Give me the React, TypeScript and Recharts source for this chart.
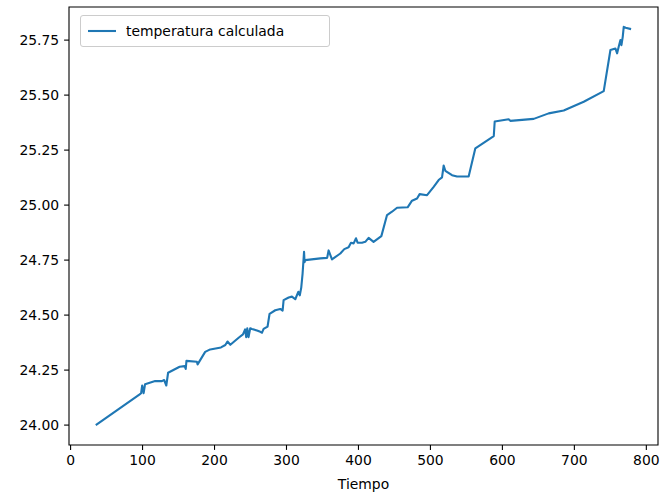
import React from 'react';
import { LineChart, Line, XAxis, YAxis, Legend, ReferenceArea } from 'recharts';

// Tiempo (x) and temperatura calculada (y)
const tiempo = [
  35, 96, 98, 99.5, 101.5, 103.5, 117.5, 127, 130, 133,
  135.5, 151.5, 158.5, 160, 161, 175.5, 176.5, 187, 194, 209,
  215, 218, 222, 233.5, 239.5, 242.5, 244, 245.5, 247.3, 249.6,
  252, 259, 263.6, 266, 268.2, 273.7, 276.5, 284.4, 291.3, 294.6,
  296, 303, 307.6, 312.2, 316.4, 318.5, 320.5, 322.4, 324.4, 325.1,
  326, 347, 356.5, 358.5, 363.2, 374.8, 380.3, 386.3, 389.6, 393.3,
  396.6, 398.8, 404.9, 409.5, 414.1, 421, 431.8, 439.7, 446.6, 453.6,
  468.3, 474.4, 481.4, 485, 495.3, 504.5, 511.4, 516.1, 518.4, 520.7,
  530, 537, 553.1, 562.4, 588, 589.3, 608.7, 611, 643.5, 664.3,
  685.2, 713, 740.8, 750.1, 757, 759.4, 761.6, 764, 765.4, 767.2,
  768.6, 771.2, 778.8,
];

const temperatura = [
  24.0, 24.14, 24.145, 24.18, 24.145, 24.186, 24.2, 24.2, 24.205, 24.18,
  24.238, 24.265, 24.268, 24.255, 24.292, 24.288, 24.276, 24.333, 24.344, 24.353,
  24.364, 24.38, 24.365, 24.397, 24.412, 24.435, 24.4, 24.44, 24.4, 24.44,
  24.437, 24.43, 24.424, 24.42, 24.437, 24.448, 24.506, 24.522, 24.528, 24.52,
  24.568, 24.58, 24.584, 24.572, 24.606, 24.59, 24.625, 24.69, 24.788, 24.74,
  24.75, 24.758, 24.76, 24.794, 24.753, 24.78, 24.8, 24.808, 24.829, 24.826,
  24.849, 24.829, 24.829, 24.833, 24.851, 24.833, 24.859, 24.955, 24.97, 24.988,
  24.99, 25.02, 25.03, 25.05, 25.045, 25.083, 25.114, 25.126, 25.18, 25.156,
  25.136, 25.13, 25.13, 25.258, 25.314, 25.38, 25.39, 25.383, 25.392, 25.417,
  25.43, 25.47, 25.518, 25.705, 25.712, 25.69, 25.72, 25.75, 25.727, 25.765,
  25.81, 25.806, 25.8,
];

const xTicks = [0, 100, 200, 300, 400, 500, 600, 700, 800];
const yTicks = [24.0, 24.25, 24.5, 24.75, 25.0, 25.25, 25.5, 25.75];

const X_DOMAIN: [number, number] = [-2.2, 816.2];
const Y_DOMAIN: [number, number] = [23.9095, 25.9005];

const BLUE = '#1f77b4';
const FONT = '"DejaVu Sans", sans-serif';
const FONT_SIZE = 13.9;

const data = tiempo.map((t, i) => ({ tiempo: t, temperatura: temperatura[i] }));

const LegendBox = () => (
  <div
    style={{
      boxSizing: 'border-box',
      width: 250,
      height: 32,
      border: '1px solid #cccccc',
      borderRadius: 3,
      background: 'rgba(255,255,255,0.8)',
      display: 'flex',
      alignItems: 'center',
      paddingLeft: 7,
      fontFamily: FONT,
      fontSize: FONT_SIZE,
      color: '#000',
    }}
  >
    <svg width={28} height={4} style={{ display: 'block' }}>
      <line x1={0} y1={2} x2={28} y2={2} stroke={BLUE} strokeWidth={2.1} />
    </svg>
    <span style={{ marginLeft: 10 }}>temperatura calculada</span>
  </div>
);

export default function App() {
  const tickStyle = { fill: '#000', fontSize: FONT_SIZE, fontFamily: FONT };
  return (
    <div style={{ position: 'absolute', left: 0, top: 0, width: 670, height: 501, background: '#fff' }}>
      <LineChart
        width={670}
        height={501}
        data={data}
        margin={{ top: 7, right: 12, bottom: 0, left: 0 }}
      >
        <XAxis
          dataKey="tiempo"
          type="number"
          domain={X_DOMAIN}
          ticks={xTicks}
          axisLine={false}
          tickLine={{ stroke: '#000', strokeWidth: 1.1 }}
          tickSize={4.9}
          tickMargin={4.9}
          tick={tickStyle}
          height={56}
          label={{
            value: 'Tiempo',
            position: 'insideBottom',
            offset: 12,
            style: { fill: '#000', fontSize: FONT_SIZE, fontFamily: FONT },
          }}
        />
        <YAxis
          type="number"
          domain={Y_DOMAIN}
          ticks={yTicks}
          axisLine={false}
          tickLine={{ stroke: '#000', strokeWidth: 1.1 }}
          tickSize={4.9}
          tickMargin={4.9}
          tick={tickStyle}
          tickFormatter={(v: number) => v.toFixed(2)}
          width={69}
        />
        {/* axes frame */}
        <ReferenceArea
          x1={X_DOMAIN[0]}
          x2={X_DOMAIN[1]}
          y1={Y_DOMAIN[0]}
          y2={Y_DOMAIN[1]}
          fill="none"
          stroke="#000"
          strokeWidth={1.1}
        />
        <Legend
          layout="vertical"
          align="center"
          verticalAlign="middle"
          content={<LegendBox />}
          wrapperStyle={{ top: 15, left: 80, width: 'auto' }}
        />
        <Line
          type="linear"
          dataKey="temperatura"
          name="temperatura calculada"
          stroke={BLUE}
          strokeWidth={2.1}
          strokeLinejoin="round"
          dot={false}
          activeDot={false}
          isAnimationActive={false}
        />
      </LineChart>
    </div>
  );
}
